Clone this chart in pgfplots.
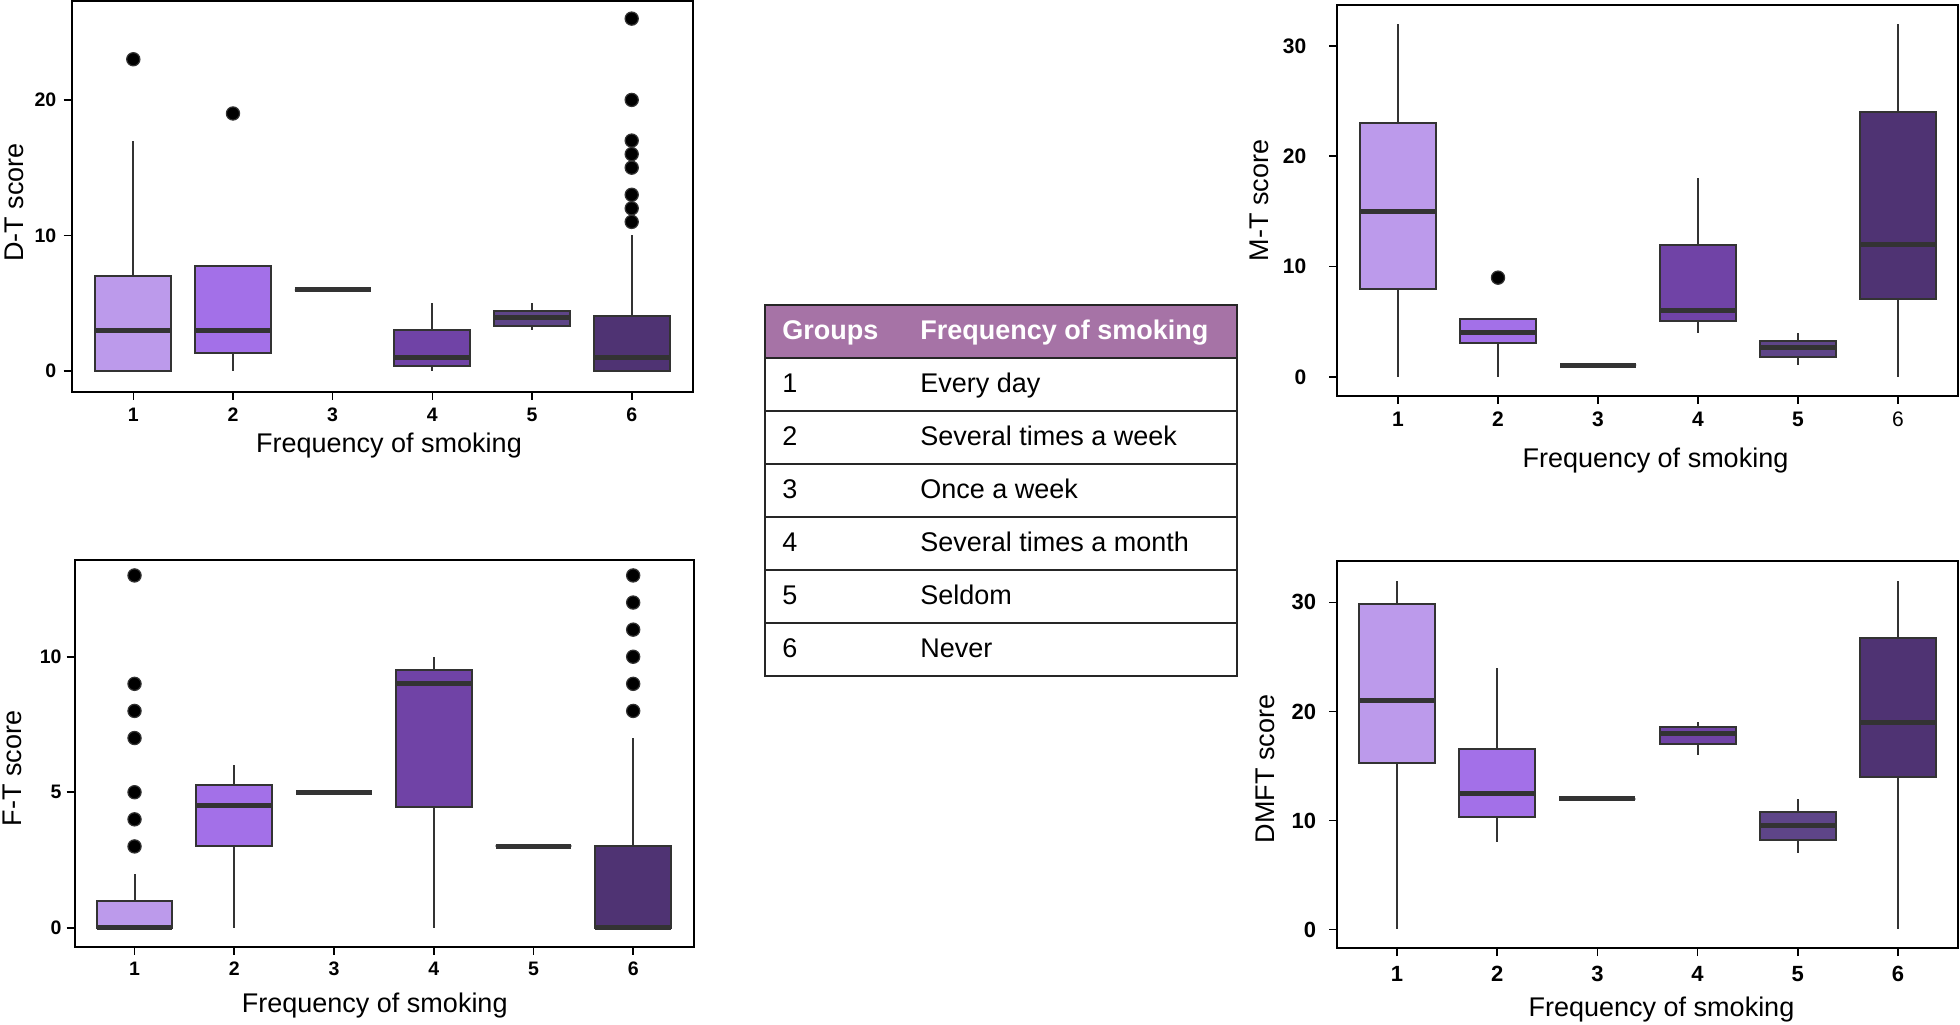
\documentclass[border=0pt]{standalone}
\usepackage{pgfplots}
\pgfplotsset{compat=1.18}
\usepgfplotslibrary{statistics}
\usepackage{fontspec}
\setmainfont{Liberation Sans}
\definecolor{bl}{HTML}{333333}
\definecolor{c1}{HTML}{BC9AEB}
\definecolor{c2}{HTML}{A370E8}
\definecolor{c3}{HTML}{8A5CD8}
\definecolor{c4}{HTML}{7043A6}
\definecolor{c5}{HTML}{5E4588}
\definecolor{c6}{HTML}{4F3373}
\definecolor{hdr}{HTML}{A673A6}

\pgfplotsset{
  bx/.style={
    boxplot/draw direction=y,
    boxplot/box extend=0.76,
    boxplot/whisker extend=0,
    boxplot/every box/.style={fill=#1, draw=bl, line width=1pt},
    boxplot/every whisker/.style={draw=bl, line width=1pt},
    boxplot/every median/.style={draw=bl, line width=2.5pt},
    draw=bl, mark=*, mark size=3.3pt,
    mark options={fill=black, draw=bl, line width=0.6pt, solid},
  },
  panel/.style={
    scale only axis,
    axis line style={line width=1pt, black},
    tick align=outside, tick pos=left,
    major tick length=4pt,
    tick style={line width=0.8pt, black},
    xtick={1,2,3,4,5,6},
    xticklabels={1,2,3,4,5,6},
    /pgf/number format/assume math mode=true,
    label style={font=\fontsize{13.5}{16}\selectfont},
    xlabel={Frequency of smoking},
  },
}

\begin{document}
\begin{tikzpicture}
\path[use as bounding box, fill=white] (0,0) rectangle (980pt,512pt);

% ---------- D-T ----------
\begin{axis}[panel, at={(35.85pt,316.15pt)}, width=310.8pt, height=195.35pt,
  xmin=0.382, xmax=6.618, ymin=-1.53, ymax=27.3, ytick={0,10,20},
  ylabel={D-T score},
  xlabel style={at={(axis description cs:0.5,0)}, anchor=base, yshift=-30.5pt, xshift=3.25pt},
  ylabel style={at={(axis description cs:-0.0928,0.484)}, anchor=center},
  tick label style={font=\bfseries\fontsize{9.75}{11}\selectfont},
  xticklabel style={anchor=base, inner sep=0pt, yshift=-11pt},
  yticklabel style={anchor=east, inner sep=0pt, xshift=-3.5pt},
]
\addplot[bx=c1, boxplot prepared={draw position=1, lower whisker=0, lower quartile=0, median=3, upper quartile=7, upper whisker=17}] table[row sep=\\, y index=0] {23\\};
\addplot[bx=c2, boxplot prepared={draw position=2, lower whisker=0, lower quartile=1.35, median=3, upper quartile=7.75, upper whisker=7.75}] table[row sep=\\, y index=0] {19\\};
\addplot[bx=c3, boxplot prepared={draw position=3, lower whisker=6, lower quartile=6, median=6, upper quartile=6, upper whisker=6}] coordinates {};
\addplot[bx=c4, boxplot prepared={draw position=4, lower whisker=0, lower quartile=0.33, median=1, upper quartile=3.05, upper whisker=5}] coordinates {};
\addplot[bx=c5, boxplot prepared={draw position=5, lower whisker=3.05, lower quartile=3.35, median=3.95, upper quartile=4.45, upper whisker=5}] coordinates {};
\addplot[bx=c6, boxplot prepared={draw position=6, lower whisker=0, lower quartile=0, median=1, upper quartile=4.05, upper whisker=10}] table[row sep=\\, y index=0] {26\\20\\17\\16\\15\\13\\12\\11\\};
\end{axis}

% ---------- F-T ----------
\begin{axis}[panel, at={(37.35pt,38.65pt)}, width=309.65pt, height=193.35pt,
  xmin=0.40, xmax=6.61, ymin=-0.70, ymax=13.57, ytick={0,5,10},
  ylabel={F-T score},
  xlabel style={at={(axis description cs:0.5,0)}, anchor=base, yshift=-33pt, xshift=-4.8pt},
  ylabel style={at={(axis description cs:-0.1012,0.461)}, anchor=center},
  tick label style={font=\bfseries\fontsize{9.75}{11}\selectfont},
  xticklabel style={anchor=base, inner sep=0pt, yshift=-10.2pt},
  yticklabel style={anchor=east, inner sep=0pt, xshift=-2.4pt},
]
\addplot[bx=c1, boxplot prepared={draw position=1, lower whisker=0, lower quartile=0, median=0, upper quartile=1, upper whisker=2}] table[row sep=\\, y index=0] {13\\9\\8\\7\\5\\4\\3\\};
\addplot[bx=c2, boxplot prepared={draw position=2, lower whisker=0, lower quartile=3, median=4.5, upper quartile=5.25, upper whisker=6}] coordinates {};
\addplot[bx=c3, boxplot prepared={draw position=3, lower whisker=5, lower quartile=5, median=5, upper quartile=5, upper whisker=5}] coordinates {};
\addplot[bx=c4, boxplot prepared={draw position=4, lower whisker=0, lower quartile=4.45, median=9, upper quartile=9.5, upper whisker=10}] coordinates {};
\addplot[bx=c5, boxplot prepared={draw position=5, lower whisker=3, lower quartile=3, median=3, upper quartile=3, upper whisker=3}] coordinates {};
\addplot[bx=c6, boxplot prepared={draw position=6, lower whisker=0, lower quartile=0, median=0, upper quartile=3, upper whisker=7}] table[row sep=\\, y index=0] {13\\12\\11\\10\\9\\8\\};
\end{axis}

% ---------- M-T ----------
\begin{axis}[panel, at={(668.5pt,314pt)}, width=310.5pt, height=195.5pt,
  xmin=0.39, xmax=6.6, ymin=-1.72, ymax=33.7, ytick={0,10,20,30},
  xticklabels={1,2,3,4,5,{\mdseries 6}},
  ylabel={M-T score},
  xlabel style={at={(axis description cs:0.5,0)}, anchor=base, yshift=-36pt, xshift=4pt},
  ylabel style={at={(axis description cs:-0.1256,0.5)}, anchor=center},
  tick label style={font=\bfseries\fontsize{10.5}{12}\selectfont},
  xticklabel style={anchor=base, inner sep=0pt, yshift=-11.3pt},
  yticklabel style={anchor=east, inner sep=0pt, xshift=-11.2pt},
]
\addplot[bx=c1, boxplot prepared={draw position=1, lower whisker=0, lower quartile=8, median=15, upper quartile=23, upper whisker=32}] coordinates {};
\addplot[bx=c2, boxplot prepared={draw position=2, lower whisker=0, lower quartile=3.05, median=4, upper quartile=5.25, upper whisker=5.25}] table[row sep=\\, y index=0] {9\\};
\addplot[bx=c3, boxplot prepared={draw position=3, lower whisker=1.05, lower quartile=1.05, median=1.05, upper quartile=1.05, upper whisker=1.05}] coordinates {};
\addplot[bx=c4, boxplot prepared={draw position=4, lower whisker=4, lower quartile=5.08, median=6, upper quartile=12, upper whisker=18}] coordinates {};
\addplot[bx=c5, boxplot prepared={draw position=5, lower whisker=1.05, lower quartile=1.8, median=2.65, upper quartile=3.25, upper whisker=4}] coordinates {};
\addplot[bx=c6, boxplot prepared={draw position=6, lower whisker=0, lower quartile=7.05, median=12, upper quartile=24, upper whisker=32}] coordinates {};
\end{axis}

% ---------- DMFT ----------
\begin{axis}[panel, at={(668.5pt,38pt)}, width=310.5pt, height=193.5pt,
  xmin=0.40, xmax=6.6, ymin=-1.7, ymax=33.8, ytick={0,10,20,30},
  ylabel={DMFT score},
  xlabel style={at={(axis description cs:0.5,0)}, anchor=base, yshift=-34.3pt, xshift=7pt},
  ylabel style={at={(axis description cs:-0.1151,0.4625)}, anchor=center},
  tick label style={font=\bfseries\fontsize{11}{13}\selectfont},
  xticklabel style={anchor=base, inner sep=0pt, yshift=-12.8pt},
  yticklabel style={anchor=east, inner sep=0pt, xshift=-6.2pt},
]
\addplot[bx=c1, boxplot prepared={draw position=1, lower whisker=0, lower quartile=15.3, median=21, upper quartile=29.9, upper whisker=32}] coordinates {};
\addplot[bx=c2, boxplot prepared={draw position=2, lower whisker=8, lower quartile=10.3, median=12.5, upper quartile=16.55, upper whisker=24}] coordinates {};
\addplot[bx=c3, boxplot prepared={draw position=3, lower whisker=12, lower quartile=12, median=12, upper quartile=12, upper whisker=12}] coordinates {};
\addplot[bx=c4, boxplot prepared={draw position=4, lower whisker=16, lower quartile=17, median=18, upper quartile=18.6, upper whisker=19}] coordinates {};
\addplot[bx=c5, boxplot prepared={draw position=5, lower whisker=7, lower quartile=8.2, median=9.5, upper quartile=10.75, upper whisker=12}] coordinates {};
\addplot[bx=c6, boxplot prepared={draw position=6, lower whisker=0, lower quartile=14, median=19, upper quartile=26.75, upper whisker=32}] coordinates {};
\end{axis}

% ---------- table ----------
\begin{scope}[x=0.5pt, y=-0.5pt, shift={(0pt,512pt)}]
\fill[hdr] (765,305) rectangle (1237,358);
\foreach \yy in {358,411,464,517,570,623}
  \draw[line width=0.6pt, black!85] (765,\yy) -- (1237,\yy);
\draw[line width=0.9pt, black!85] (765,305) rectangle (1237,676);
\begin{scope}[every node/.style={anchor=base west, inner sep=0pt, font=\fontsize{13.5}{16}\selectfont}]
\node[text=white, font=\bfseries\fontsize{13.5}{16}\selectfont] at (782,340) {Groups};
\node[text=white, font=\bfseries\fontsize{13.5}{16}\selectfont] at (920,340) {Frequency of smoking};
\node at (782,393) {1}; \node at (920,393) {Every day};
\node at (782,446) {2}; \node at (920,446) {Several times a week};
\node at (782,499) {3}; \node at (920,499) {Once a week};
\node at (782,552) {4}; \node at (920,552) {Several times a month};
\node at (782,605) {5}; \node at (920,605) {Seldom};
\node at (782,658) {6}; \node at (920,658) {Never};
\end{scope}
\end{scope}
\end{tikzpicture}
\end{document}
